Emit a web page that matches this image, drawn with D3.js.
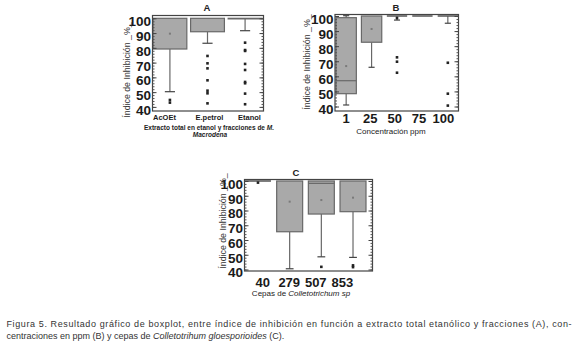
<!DOCTYPE html>
<html>
<head>
<meta charset="utf-8">
<script src="https://cdn.jsdelivr.net/npm/d3@7"></script>
<style>
  body { margin: 0; background: #fff; }
  svg { display: block; }
</style>
</head>
<body>
<div class="chart"></div>
<script>
// values (inhibition index, %)
// A - extract and fractions
const catsA = ["AcOEt", "E.petrol", "Etanol"];
const q1A   = [79.2, 90.9, 99.6];
const medA  = [100, 100, 100];
const q3A   = [100, 100, 100];
const loA   = [50.3, 83.1, 91.6];
const hiA   = [100, 100, 100];
const meanA = [89.6, null, null];
const outA  = [
  [44.7, 42.9],
  [74.5, 69.5, 66.1, 58, 51, 49.2, 42.4],
  [83.5, 78.5, 77.9, 69.1, 65, 56.9, 56, 49, 41.8]
];

// B - concentrations in ppm
const catsB = ["1", "25", "50", "75", "100"];
const q1B   = [48.5, 82.6, 100, 100, 100];
const medB  = [57.1, 100, 100, 100, 100];
const q3B   = [98.9, 100, 100, 100, 100];
const loB   = [41, 66, 97.3, 100, 95.2];
const hiB   = [100.2, 100, 100, 100, 100];
const meanB = [66.8, 91.4, null, null, null];
const outB  = [[], [], [98.6, 72.6, 69.7, 62.4], [], [69, 48.5, 40.6]];

// C - Colletotrichum strains
const catsC = ["40", "279", "507", "853"];
const q1C   = [100, 65.6, 77.6, 79.2];
const medC  = [100, 100, 98.4, 100];
const q3C   = [100, 100, 100, 100];
const loC   = [100, 40.5, 48.6, 48.2];
const hiC   = [100, 100, 100, 100];
const meanC = [null, 86, 87.1, 88.7];
const outC  = [[98.9], [], [41.8], [42.8, 41.6]];

const yTicks = [40, 50, 60, 70, 80, 90, 100];

const svg = d3.select(".chart")
  .append("svg")
  .attr("width", 580)
  .attr("height", 342);

const boxFill = "#a9a9a9";
const boxLine = "#686868";
const narrow = "'Liberation Sans Narrow', 'Arial Narrow', 'Liberation Sans', Arial, sans-serif";
const sans = "'Liberation Sans', Arial, sans-serif";

const drawPanel = p => {
  const g = svg.append("g");

  const yScale = d3.scaleLinear().domain([40, 100]).range([p.y40, p.y100]);
  const xScale = d3.scaleBand().domain(p.cats).range(p.xr)
    .paddingInner(p.padIn).paddingOuter(0);
  const labelScale = d3.scalePoint().domain(p.cats).range(p.labelRange);

  const rows = p.cats.map((c, i) => ({
    cat: c, q1: p.q1[i], med: p.med[i], q3: p.q3[i], lo: p.lo[i], hi: p.hi[i],
    mean: p.mean[i], out: p.out[i]
  }));

  // whiskers first so the box sits on top
  const bw = xScale.bandwidth();
  const cap = bw * 0.3;
  const whisker = (cx, from, to) => {
    g.append("line")
      .attr("x1", cx).attr("x2", cx)
      .attr("y1", yScale(from)).attr("y2", yScale(to))
      .attr("stroke", boxLine).attr("stroke-width", 1.2);
    g.append("line")
      .attr("x1", cx - cap / 2).attr("x2", cx + cap / 2)
      .attr("y1", yScale(to)).attr("y2", yScale(to))
      .attr("stroke", "#444").attr("stroke-width", 1.2);
  };
  rows.forEach(d => {
    const cx = xScale(d.cat) + bw / 2;
    if (d.lo < d.q1) whisker(cx, d.q1, d.lo);
    if (d.hi > d.q3) whisker(cx, d.q3, d.hi);
  });

  // boxes; the ones squashed at 100 become a flat line
  g.selectAll(".box")
    .data(rows.filter(d => d.q3 > d.q1))
    .join("rect")
      .attr("x", d => xScale(d.cat))
      .attr("y", d => yScale(d.q3))
      .attr("width", bw)
      .attr("height", d => yScale(d.q1) - yScale(d.q3))
      .attr("fill", boxFill)
      .attr("stroke", boxLine)
      .attr("stroke-width", 1.2);

  g.selectAll(".flat")
    .data(rows.filter(d => d.q3 <= d.q1))
    .join("line")
      .attr("x1", d => xScale(d.cat))
      .attr("x2", d => xScale(d.cat) + bw)
      .attr("y1", d => yScale(d.q3))
      .attr("y2", d => yScale(d.q3))
      .attr("stroke", "#555").attr("stroke-width", 1.5);

  // median line (only where it is not on the box edge)
  g.selectAll(".med")
    .data(rows.filter(d => d.med < d.q3 && d.med > d.q1))
    .join("line")
      .attr("x1", d => xScale(d.cat))
      .attr("x2", d => xScale(d.cat) + bw)
      .attr("y1", d => yScale(d.med))
      .attr("y2", d => yScale(d.med))
      .attr("stroke", boxLine).attr("stroke-width", 1.2);

  // mean marker
  g.selectAll(".mean")
    .data(rows.filter(d => d.mean != null))
    .join("rect")
      .attr("x", d => xScale(d.cat) + bw / 2 - 1)
      .attr("y", d => yScale(d.mean) - 1)
      .attr("width", 2).attr("height", 2)
      .attr("fill", "#7a7a7a");

  // outliers
  const pts = rows.flatMap(d => d.out.map(v => ({cat: d.cat, v: v})));
  g.selectAll(".out")
    .data(pts)
    .join("rect")
      .attr("x", d => xScale(d.cat) + bw / 2 - 1.3)
      .attr("y", d => yScale(d.v) - 1.3)
      .attr("width", 2.6).attr("height", 2.6)
      .attr("fill", "#222");

  // frame
  g.append("rect")
    .attr("x", p.left).attr("y", p.top)
    .attr("width", p.right - p.left).attr("height", p.bottom - p.top)
    .attr("fill", "none").attr("stroke", "#444").attr("stroke-width", 1.2);

  // inward ticks on both sides
  const minor = d3.range(40, 101, 2);
  const tickSets = [
    {axis: d3.axisRight(yScale), x: p.left},
    {axis: d3.axisLeft(yScale), x: p.right}
  ];
  tickSets.forEach(t => {
    g.append("g")
      .attr("transform", `translate(${t.x},0)`)
      .call(t.axis.tickValues(minor).tickSize(2).tickFormat(""))
      .call(a => a.select(".domain").remove())
      .call(a => a.selectAll("line").attr("stroke", "#555"));
    g.append("g")
      .attr("transform", `translate(${t.x},0)`)
      .call(t.axis.tickValues(yTicks).tickSize(4).tickFormat(""))
      .call(a => a.select(".domain").remove())
      .call(a => a.selectAll("line").attr("stroke", "#444"));
  });

  // y tick labels
  g.append("g")
    .attr("transform", `translate(${p.left},0)`)
    .call(d3.axisLeft(yScale).tickValues(yTicks).tickSize(0).tickPadding(1.5))
    .call(a => a.select(".domain").remove())
    .call(a => a.selectAll("text")
      .attr("dy", "0.55em")
      .attr("font-family", narrow)
      .attr("font-weight", "bold")
      .attr("font-size", 13.5)
      .attr("fill", "#1a1a1a"));

  // x labels
  g.selectAll(".xl")
    .data(p.cats)
    .join("text")
      .attr("x", d => labelScale(d))
      .attr("y", p.labelY)
      .attr("text-anchor", p.labelAnchor)
      .attr("font-family", p.labelFont)
      .attr("font-weight", "bold")
      .attr("font-size", p.labelSize)
      .attr("fill", "#1a1a1a")
      .text(d => d);

  // title letter
  g.append("text")
    .attr("x", p.titleX).attr("y", p.titleY)
    .attr("text-anchor", "middle")
    .attr("font-family", sans).attr("font-weight", "bold")
    .attr("font-size", 9.5).attr("fill", "#222")
    .text(p.title);

  // y title
  g.append("text")
    .attr("transform", `translate(${p.yTitleX},${p.yTitleY}) rotate(-90)`)
    .attr("text-anchor", "middle")
    .attr("font-family", sans)
    .attr("font-size", 8.8)
    .attr("fill", "#333")
    .text("Índice de Inhibición _%_");

  return g;
};

const gA = drawPanel({
  title: "A", cats: catsA, q1: q1A, med: medA, q3: q3A, lo: loA, hi: hiA, mean: meanA, out: outA,
  left: 152.5, right: 263.5, top: 15.5, bottom: 111, y100: 18.3, y40: 106.9,
  xr: [153, 262], padIn: 0.1,
  labelRange: [153, 238], labelAnchor: "start", labelY: 119.5, labelSize: 7.5, labelFont: sans,
  titleX: 207, titleY: 10.5, yTitleX: 130, yTitleY: 70
});
const gB = drawPanel({
  title: "B", cats: catsB, q1: q1B, med: medB, q3: q3B, lo: loB, hi: hiB, mean: meanB, out: outB,
  left: 335, right: 458.5, top: 14.5, bottom: 111, y100: 16, y40: 106.5,
  xr: [336, 458], padIn: 0.2,
  labelRange: [346, 443.3], labelAnchor: "middle", labelY: 123, labelSize: 13, labelFont: sans,
  titleX: 396, titleY: 10.5, yTitleX: 310, yTitleY: 62
});
const gC = drawPanel({
  title: "C", cats: catsC, q1: q1C, med: medC, q3: q3C, lo: loC, hi: hiC, mean: meanC, out: outC,
  left: 244.5, right: 372.5, top: 179.5, bottom: 271, y100: 181, y40: 269.5,
  xr: [245, 366], padIn: 0.18,
  labelRange: [262.7, 342.3], labelAnchor: "middle", labelY: 287, labelSize: 13, labelFont: sans,
  titleX: 296, titleY: 175.5, yTitleX: 225.5, yTitleY: 221
});

// axis titles
const tA = gA.append("text")
  .attr("x", 209).attr("y", 129.5)
  .attr("text-anchor", "middle")
  .attr("font-family", narrow).attr("font-weight", "bold")
  .attr("font-size", 6.5).attr("fill", "#222");
tA.append("tspan").text("Extracto total en etanol y  fracciones de ");
tA.append("tspan").attr("font-style", "italic").text("M.");
gA.append("text")
  .attr("x", 210).attr("y", 137)
  .attr("text-anchor", "middle")
  .attr("font-family", narrow).attr("font-weight", "bold").attr("font-style", "italic")
  .attr("font-size", 6.5).attr("fill", "#222")
  .text("Macrodena");

gB.append("text")
  .attr("x", 391).attr("y", 134)
  .attr("text-anchor", "middle")
  .attr("font-family", sans)
  .attr("font-size", 8).attr("fill", "#222")
  .text("Concentración ppm");

const tC = gC.append("text")
  .attr("x", 301).attr("y", 296)
  .attr("text-anchor", "middle")
  .attr("font-family", sans)
  .attr("font-size", 8).attr("fill", "#222");
tC.append("tspan").text("Cepas de ");
tC.append("tspan").attr("font-style", "italic").text("Colletotrichum sp");

// caption under the figure (first line is justified in the original)
svg.append("text")
  .attr("x", 6.5).attr("y", 326.5)
  .attr("font-family", sans).attr("font-size", 9).attr("fill", "#333")
  .attr("textLength", 565).attr("lengthAdjust", "spacing")
  .text("Figura 5. Resultado gráfico de boxplot, entre índice de inhibición en función a extracto total etanólico y fracciones (A), con-");

const cap2 = svg.append("text")
  .attr("x", 6.5).attr("y", 339)
  .attr("font-family", sans).attr("font-size", 9).attr("fill", "#333");
cap2.append("tspan").text("centraciones en ppm (B) y cepas de ");
cap2.append("tspan").attr("font-style", "italic").text("Colletotrihum gloesporioides");
cap2.append("tspan").text(" (C).");
</script>
</body>
</html>
